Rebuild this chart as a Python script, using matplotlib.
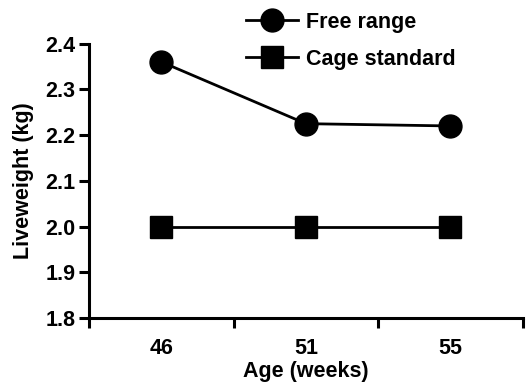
import matplotlib.pyplot as plt

ages = ['46', '51', '55']
free_range = [2.36, 2.225, 2.22]
cage_standard = [2.0, 2.0, 2.0]
yticks = [1.8, 1.9, 2.0, 2.1, 2.2, 2.3, 2.4]

plt.rcParams['font.family'] = ['Liberation Sans', 'DejaVu Sans']
plt.rcParams['font.weight'] = 'bold'
fs = 15.5

fig = plt.figure(figsize=(5.27, 3.86), dpi=100)
ax = fig.add_axes([0.169, 0.176, 0.823, 0.711])

x = list(range(len(ages)))
ax.plot(x, free_range, color='black', lw=2, marker='o', ms=16.5,
        label='Free range', clip_on=False)
ax.plot(x, cage_standard, color='black', lw=2, marker='s', ms=15.5,
        label='Cage standard', clip_on=False)

ax.set_xlim(-0.5, len(ages) - 0.5)
ax.set_ylim(1.8, 2.4)
ax.set_yticks(yticks)
ax.set_yticklabels([f'{v:.1f}' for v in yticks])
ax.set_xticks([i - 0.5 for i in range(len(ages) + 1)])
ax.set_xticklabels([])
ax.set_xticks(x, minor=True)
ax.set_xticklabels(ages, minor=True)
ax.tick_params(axis='x', which='minor', length=0, pad=14, labelsize=fs)
ax.tick_params(axis='x', which='major', length=7, width=2.2, direction='out')
ax.tick_params(axis='y', length=7, width=2.2, direction='out', labelsize=fs, pad=3)

for side in ['top', 'right']:
    ax.spines[side].set_visible(False)
for side in ['left', 'bottom']:
    ax.spines[side].set_linewidth(2.2)

ax.set_xlabel('Age (weeks)', fontsize=fs, fontweight='bold', labelpad=2)
ax.set_ylabel('Liveweight (kg)', fontsize=fs, fontweight='bold', labelpad=8)

fig.legend(loc='upper left', bbox_to_anchor=(0.43, 1.02), frameon=False,
           fontsize=fs, handlelength=2.4, handletextpad=0.4, labelspacing=0.75)

fig.savefig('out.png', dpi=100)
